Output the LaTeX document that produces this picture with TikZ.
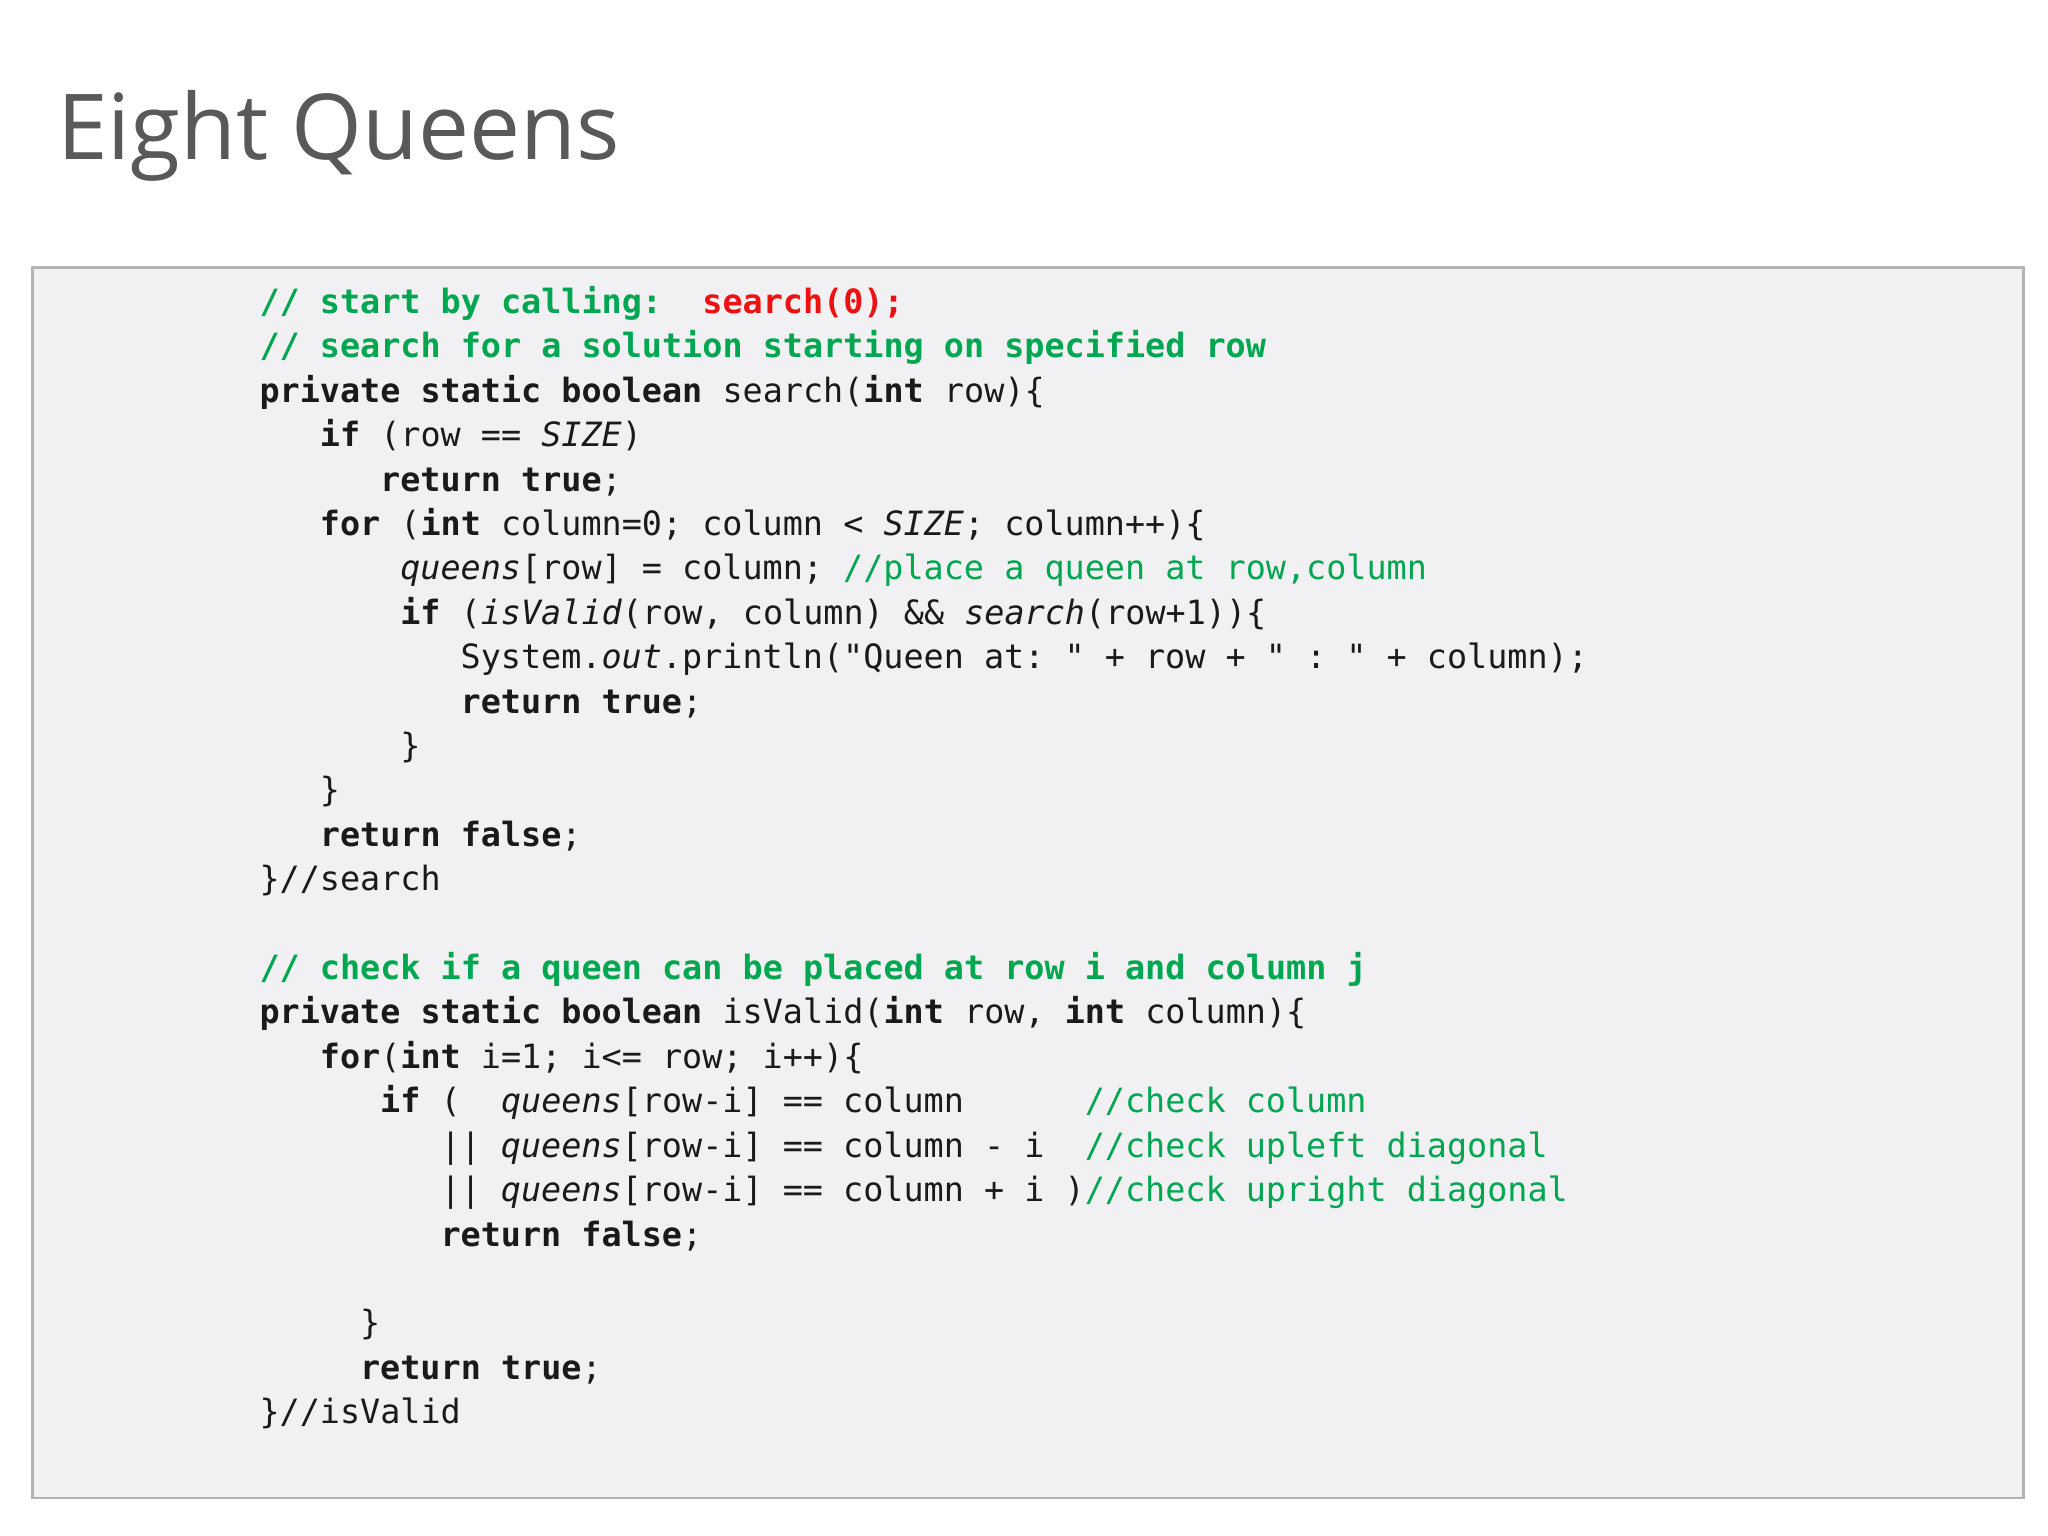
\documentclass[tikz,border=0pt]{standalone}
\usepackage{fontspec}
\newfontfamily\cf{DejaVu Sans Mono}
\newfontfamily\tf{Open Sans}
\definecolor{codec}{HTML}{1A1A1A}
\definecolor{cgreen}{HTML}{00A650}
\definecolor{cred}{HTML}{EE1111}
\definecolor{boxfill}{HTML}{F1F1F3}
\definecolor{boxline}{HTML}{B4B4B4}
\definecolor{titlec}{HTML}{595959}
\newcommand{\kw}[1]{\textbf{#1}}
\newcommand{\ii}[1]{\textit{#1}}
\newcommand{\cmb}[1]{\textcolor{cgreen}{\textbf{#1}}}
\newcommand{\cmn}[1]{\textcolor{cgreen}{#1}}
\begin{document}
\begin{tikzpicture}[x=0.01cm,y=-0.01cm,
  code/.style={anchor=base west,inner sep=0,text=codec,font=\cf\fontsize{7.28}{8}\selectfont}]
\fill[white] (0,0) rectangle (1568,1176);
\node[anchor=base west,inner sep=0,text=titlec,font=\tf\fontsize{19.8}{24}\selectfont] (title) at (43,122) {Eight Queens};
\draw[boxline,fill=boxfill,line width=0.6pt] (25,205) rectangle (1549,1147);
\def\cx#1{198+15.4*#1}
\def\ly#1{240+34*#1}
\node[code] (l0) at ({\cx0},{\ly0}) {\cmb{//~start~by~calling:~~}\textcolor{cred}{\textbf{search(0);}}};
\node[code] (l1) at ({\cx0},{\ly1}) {\cmb{//~search~for~a~solution~starting~on~specified~row}};
\node[code] (l2) at ({\cx0},{\ly2}) {\kw{private~static~boolean}~search(\kw{int}~row)\{};
\node[code] (l3) at ({\cx3},{\ly3}) {\kw{if}~(row~==~\ii{SIZE})};
\node[code] (l4) at ({\cx6},{\ly4}) {\kw{return~true};};
\node[code] (l5) at ({\cx3},{\ly5}) {\kw{for}~(\kw{int}~column=0;~column~<~\ii{SIZE};~column++)\{};
\node[code] (l6) at ({\cx7},{\ly6}) {\ii{queens}[row]~=~column;~\cmn{//place~a~queen~at~row,column}};
\node[code] (l7) at ({\cx7},{\ly7}) {\kw{if}~(\ii{isValid}(row,~column)~\&\&~\ii{search}(row+1))\{};
\node[code] (l8) at ({\cx10},{\ly8}) {System.\ii{out}.println("Queen~at:~"~+~row~+~"~:~"~+~column);};
\node[code] (l9) at ({\cx10},{\ly9}) {\kw{return~true};};
\node[code] (l10) at ({\cx7},{\ly10}) {\}};
\node[code] (l11) at ({\cx3},{\ly11}) {\}};
\node[code] (l12) at ({\cx3},{\ly12}) {\kw{return~false};};
\node[code] (l13) at ({\cx0},{\ly13}) {\}//search};
\node[code] (l15) at ({\cx0},{\ly15}) {\cmb{//~check~if~a~queen~can~be~placed~at~row~i~and~column~j}};
\node[code] (l16) at ({\cx0},{\ly16}) {\kw{private~static~boolean}~isValid(\kw{int}~row,~\kw{int}~column)\{};
\node[code] (l17) at ({\cx3},{\ly17}) {\kw{for}(\kw{int}~i=1;~i<=~row;~i++)\{};
\node[code] (l18) at ({\cx6},{\ly18}) {\kw{if}~(~~\ii{queens}[row-i]~==~column~~~~~~\cmn{//check~column}};
\node[code] (l19) at ({\cx9},{\ly19}) {||~\ii{queens}[row-i]~==~column~-~i~~\cmn{//check~upleft~diagonal}};
\node[code] (l20) at ({\cx9},{\ly20}) {||~\ii{queens}[row-i]~==~column~+~i~)\cmn{//check~upright~diagonal}};
\node[code] (l21) at ({\cx9},{\ly21}) {\kw{return~false};};
\node[code] (l23) at ({\cx5},{\ly23}) {\}};
\node[code] (l24) at ({\cx5},{\ly24}) {\kw{return~true};};
\node[code] (l25) at ({\cx0},{\ly25}) {\}//isValid};
\end{tikzpicture}
\end{document}
